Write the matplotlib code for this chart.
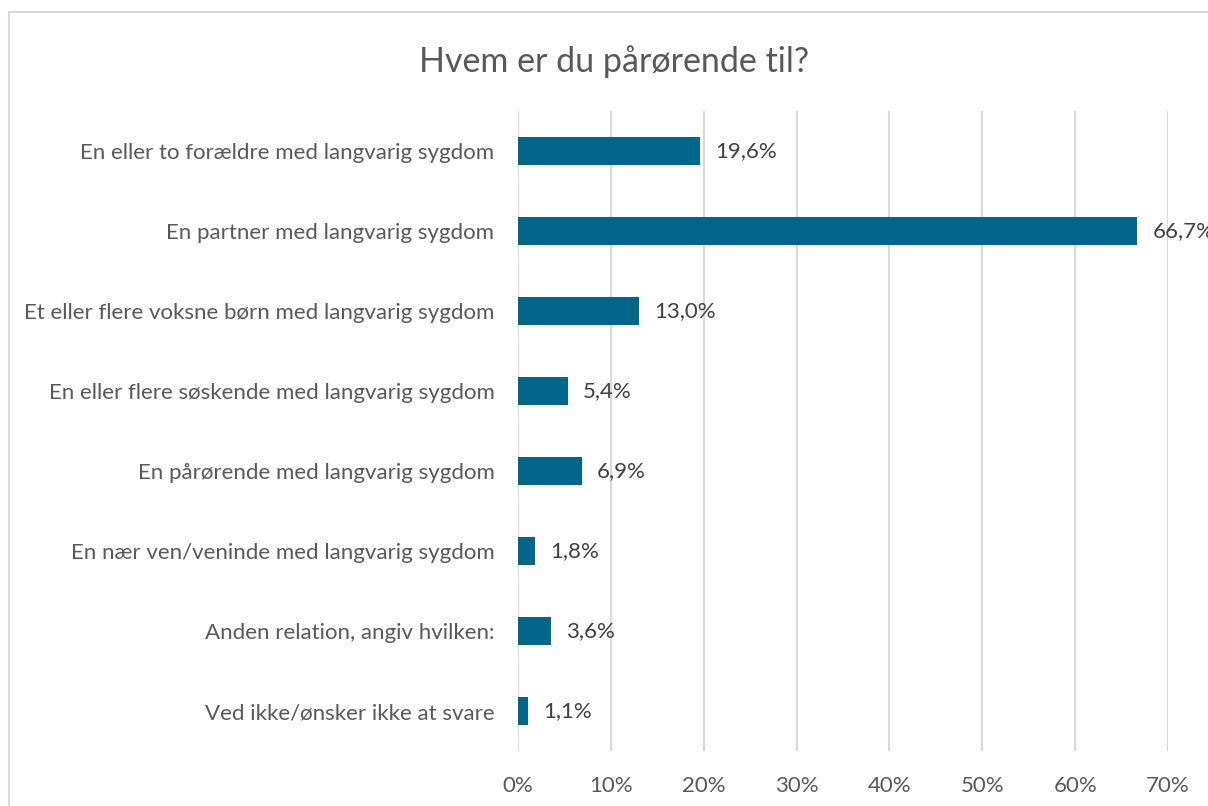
import matplotlib
matplotlib.use("Agg")
import matplotlib.pyplot as plt
from matplotlib.patches import Rectangle

categories = [
    "En eller to forældre med langvarig sygdom",
    "En partner med langvarig sygdom",
    "Et eller flere voksne børn med langvarig sygdom",
    "En eller flere søskende med langvarig sygdom",
    "En pårørende med langvarig sygdom",
    "En nær ven/veninde med langvarig sygdom",
    "Anden relation, angiv hvilken:",
    "Ved ikke/ønsker ikke at svare",
]
values = [19.6, 66.7, 13.0, 5.4, 6.9, 1.8, 3.6, 1.1]
xticks = [0, 10, 20, 30, 40, 50, 60, 70]
title = "Hvem er du pårørende til?"

plt.rcParams['font.family'] = ['Lato', 'DejaVu Sans']

W, H = 1208, 806
fig = plt.figure(figsize=(W / 100, H / 100), dpi=100)
fig.patch.set_facecolor('white')

# chart border (partially cropped)
fig.patches.append(Rectangle((9 / W, -0.05), 1.2, 1 - 12 / H + 0.05,
                             transform=fig.transFigure, fill=False,
                             edgecolor='#D9D9D9', linewidth=1.5))

left, right, top, bottom = 518, 1168, 111, 751
ax = fig.add_axes([left / W, 1 - bottom / H, (right - left) / W, (bottom - top) / H])

y = list(range(len(categories)))
ax.barh(y, values, height=0.35, color='#01668A', zorder=3)
ax.set_ylim(len(categories) - 0.5, -0.5)
ax.set_xlim(0, 70)
ax.set_yticks(y)
ax.set_yticklabels(categories, fontsize=16, color='#595959')
ax.set_xticks(xticks)
ax.set_xticklabels([f"{t}%" for t in xticks], fontsize=16, color='#595959')
ax.tick_params(axis='y', length=0, pad=17)
ax.tick_params(axis='x', length=0, pad=18)
ax.grid(axis='x', color='#D9D9D9', linewidth=1.5, zorder=0)
for s in ax.spines.values():
    s.set_visible(False)

for yi, v in zip(y, values):
    ax.annotate(f"{v:.1f}%".replace('.', ','), (v, yi), xytext=(15, 0),
                textcoords='offset pixels', va='center', ha='left',
                fontsize=16, color='#404040', annotation_clip=False, zorder=4)

fig.text(614 / W, 1 - 62 / H, title, ha='center', va='center',
         fontsize=24.5, color='#595959')

fig.savefig('out.png', dpi=100)
